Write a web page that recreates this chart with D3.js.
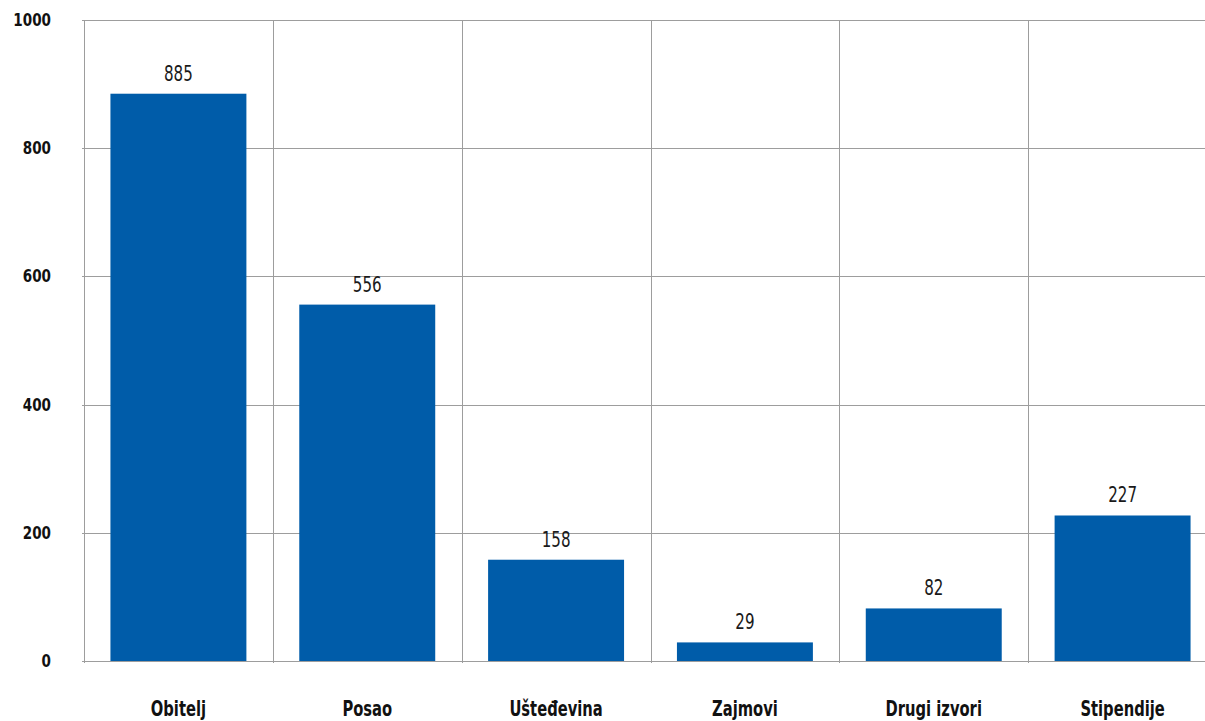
<!DOCTYPE html>
<html><head><meta charset="utf-8">
<script src="https://cdn.jsdelivr.net/npm/d3@7"></script>
<style>
html,body{margin:0;padding:0;background:#fff;}
svg{display:block;}
</style></head>
<body>
<svg id="chart" width="1205" height="721"></svg>
<script>
const categories = ["Obitelj", "Posao", "Ušteđevina", "Zajmovi", "Drugi izvori", "Stipendije"];
const values = [885, 556, 158, 29, 82, 227];
const yTicks = [0, 200, 400, 600, 800, 1000];

const svg = d3.select("#chart");
const mLeft = 84, mRight = 1217, mTop = 20, mBottom = 661;
const font = "'DejaVu Sans Condensed', 'DejaVu Sans', sans-serif";

const x = d3.scaleBand().domain(categories).range([mLeft, mRight]).paddingInner(0.28).paddingOuter(0.14);
const y = d3.scaleLinear().domain([0, 1000]).range([mBottom, mTop]);
const xBand = d3.scaleBand().domain(categories).range([mLeft, mRight]);

// horizontal gridlines
svg.append("g").selectAll("line").data(yTicks).join("line")
  .attr("x1", mLeft - 2).attr("x2", 1205)
  .attr("y1", d => Math.round(y(d)) + 0.5).attr("y2", d => Math.round(y(d)) + 0.5)
  .attr("stroke", "#9d9d9d").attr("stroke-width", 1);

// vertical gridlines at category boundaries
const bounds = categories.map(c => xBand(c));
svg.append("g").selectAll("line").data(bounds).join("line")
  .attr("x1", d => Math.round(d) + 0.5).attr("x2", d => Math.round(d) + 0.5)
  .attr("y1", mTop).attr("y2", mBottom + 2)
  .attr("stroke", "#9d9d9d").attr("stroke-width", 1);

// y labels
svg.append("g").selectAll("text").data(yTicks).join("text")
  .attr("transform", d => `translate(51,${y(d) + 6}) scale(0.86,1)`)
  .attr("text-anchor", "end")
  .attr("font-family", font).attr("font-weight", "bold").attr("font-size", 17.5)
  .attr("fill", "#111")
  .text(d => d);

// bars
svg.append("g").selectAll("rect").data(values).join("rect")
  .attr("x", (d, i) => x(categories[i]))
  .attr("width", x.bandwidth())
  .attr("y", d => y(d))
  .attr("height", d => y(0) - y(d))
  .attr("fill", "#005ca9");

// value labels
svg.append("g").selectAll("text").data(values).join("text")
  .attr("transform", (d, i) => `translate(${x(categories[i]) + x.bandwidth() / 2},${y(d) - 13}) scale(0.8,1)`)
  .attr("text-anchor", "middle")
  .attr("font-family", font).attr("font-size", 21)
  .attr("fill", "#1a1a1a")
  .text(d => d);

// category labels
svg.append("g").selectAll("text").data(categories).join("text")
  .attr("transform", d => `translate(${xBand(d) + xBand.bandwidth() / 2},716) scale(0.78,1)`)
  .attr("text-anchor", "middle")
  .attr("font-family", font).attr("font-weight", "bold").attr("font-size", 21)
  .attr("fill", "#111")
  .text(d => d);
</script>
</body></html>
